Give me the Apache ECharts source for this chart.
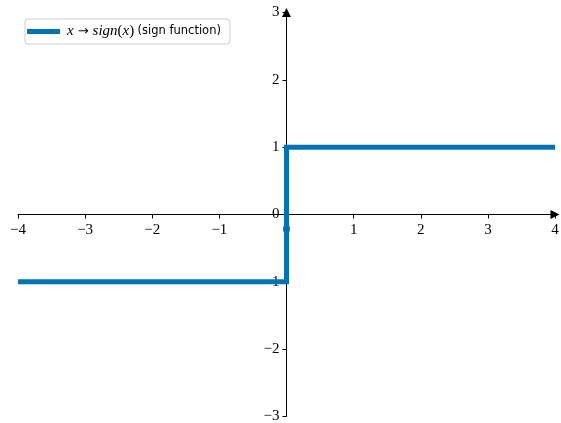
<!DOCTYPE html>
<html>
<head>
<meta charset="utf-8">
<style>
  html, body { margin: 0; padding: 0; background: #ffffff; }
  #chart { width: 561px; height: 423px; }
</style>
<script src="https://cdn.jsdelivr.net/npm/echarts@6/dist/echarts.min.js"></script>
</head>
<body>
<div id="chart"></div>
<script>
// Sign function sampled at the points where it changes
const xValues = [-4, 0, 0, 0, 4];
const yValues = [-1, -1, 0, 1, 1];

const xTicks = [-4, -3, -2, -1, 0, 1, 2, 3, 4];
const yTicks = [-3, -2, -1, 0, 1, 2, 3];

const lineColor = '#0173b2';
const tickFont = 'Liberation Serif';

// Plot box in pixels
const plotLeft = 18, plotTop = 12.5, plotWidth = 537, plotHeight = 404;

function fmtTick(v) {
  return v < 0 ? '\u2212' + Math.abs(v) : String(v);
}

// Pixel distance from the plot edge to the value 0 along an axis
function zeroShift(ticks, size) {
  const lo = ticks[0], hi = ticks[ticks.length - 1];
  return (0 - lo) / (hi - lo) * size;
}

const chart = echarts.init(document.getElementById('chart'), null, { renderer: 'canvas' });

const axisCommon = {
  type: 'value',
  interval: 1,
  splitLine: { show: false },
  axisLine: {
    show: true,
    onZero: false,
    symbol: ['none', 'triangle'],
    symbolSize: [9, 9],
    lineStyle: { color: '#000000', width: 1 }
  },
  axisTick: { show: true, inside: false, length: 4, lineStyle: { color: '#000000', width: 1 } },
  axisLabel: {
    color: '#000000',
    fontFamily: tickFont,
    fontSize: 15,
    margin: 7,
    formatter: fmtTick
  }
};

chart.setOption({
  animation: false,
  backgroundColor: '#ffffff',
  grid: {
    left: plotLeft, top: plotTop, width: plotWidth, height: plotHeight,
    containLabel: false, outerBoundsMode: 'none'
  },
  xAxis: Object.assign({}, axisCommon, {
    position: 'bottom',
    // spines cross at the origin
    offset: -zeroShift(yTicks, plotHeight),
    min: xTicks[0], max: xTicks[xTicks.length - 1],
    axisLabel: Object.assign({}, axisCommon.axisLabel, { margin: 8 })
  }),
  yAxis: Object.assign({}, axisCommon, {
    position: 'left',
    offset: -zeroShift(xTicks, plotWidth),
    min: yTicks[0], max: yTicks[yTicks.length - 1]
  }),
  legend: {
    show: true,
    left: 25,
    top: 19,
    orient: 'vertical',
    padding: [5, 9, 5, 2],
    backgroundColor: 'rgba(255,255,255,0.8)',
    borderColor: '#cccccc',
    borderWidth: 1,
    borderRadius: 3,
    itemWidth: 33,
    itemHeight: 5,
    icon: 'rect',
    data: [{ name: 'sign', itemStyle: { color: lineColor } }],
    formatter: function () {
      return '{i|x}{a|\u2192}{i|sign}{r|(}{i|x}{r|)} {s|(sign function)}';
    },
    textStyle: {
      padding: [0, 0, 0, 2],
      rich: {
        i: { fontFamily: 'Liberation Serif', fontStyle: 'italic', fontSize: 15, color: '#000000' },
        r: { fontFamily: 'Liberation Serif', fontSize: 15, color: '#000000' },
        a: { fontFamily: 'DejaVu Sans', fontSize: 13, color: '#000000', padding: [0, 4, 0, 4] },
        s: { fontFamily: 'DejaVu Sans', fontSize: 11.5, color: '#000000' }
      }
    }
  },
  series: [{
    name: 'sign',
    type: 'line',
    data: xValues.map((x, i) => [x, yValues[i]]),
    showSymbol: false,
    symbol: 'none',
    lineStyle: { color: lineColor, width: 5, join: 'miter' },
    itemStyle: { color: lineColor },
    z: 3
  }]
});
</script>
</body>
</html>
